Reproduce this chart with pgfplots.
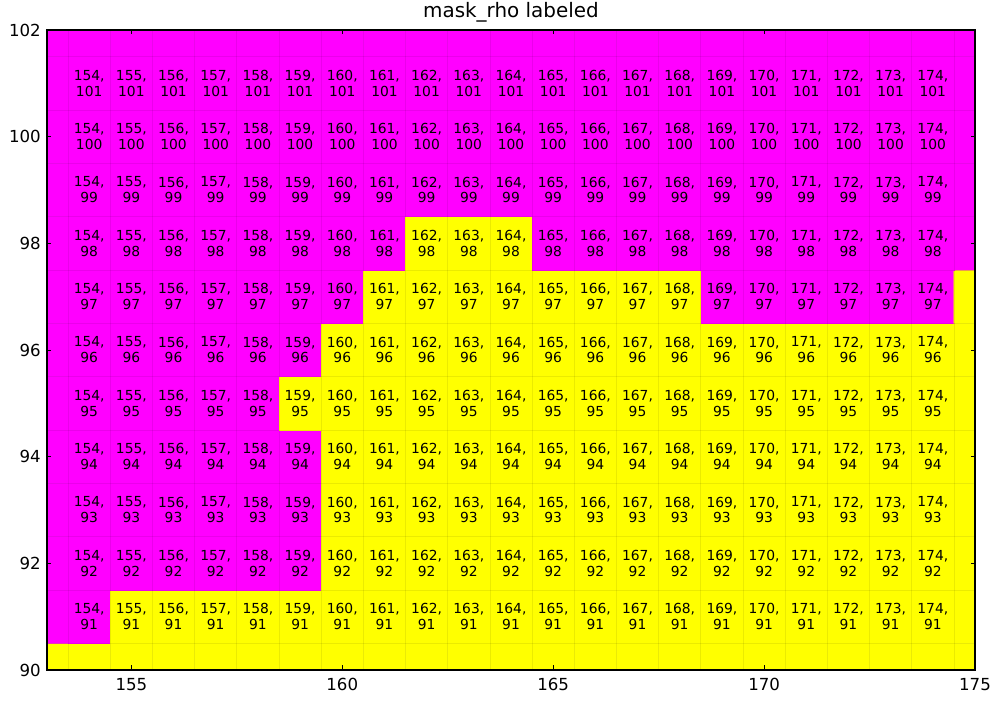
\documentclass[border=0pt]{standalone}
\usepackage{fontspec}
\setmainfont{DejaVu Sans}
\usepackage{pgfplots}
\pgfplotsset{compat=1.18}
\begin{document}
\begin{tikzpicture}
\path[use as bounding box] (-0.47in,-0.35in) rectangle (9.56in,6.70in);
\begin{axis}[
  at={(0,0)}, anchor=south west,
  scale only axis, width=9.28in, height=6.4in,
  xmin=153, xmax=175, ymin=90, ymax=102,
  xtick={155,160,...,175}, ytick={90,92,...,102},
  minor xtick={153.5,154.5,...,174.5},
  minor ytick={90.5,91.5,...,101.5},
  xminorgrids, yminorgrids,
  minor grid style={black, opacity=0.08, line width=0.5pt},
  minor tick length=0pt,
  major tick length=0.045in,
  tick align=inside,
  tick style={black, line width=0.6pt},
  axis line style={black, line width=0.8pt},
  axis on top,
  /pgf/number format/assume math mode=true,
  ticklabel style={font=\fontsize{12}{14}\selectfont},
  xticklabel style={yshift=-2.5pt},
  yticklabel style={xshift=-1pt},
  title={mask\_rho labeled},
  title style={font=\fontsize{14.4}{17}\selectfont, at={(0.5,1)}, anchor=base, yshift=3pt},
  colormap={mm}{rgb255=(255,0,255) rgb255=(255,255,0)},
  point meta min=0, point meta max=1,
]
\addplot[matrix plot*, mesh/cols=23, point meta=explicit] coordinates {
(153,90)[1] (154,90)[1] (155,90)[1] (156,90)[1] (157,90)[1] (158,90)[1] (159,90)[1] (160,90)[1] (161,90)[1] (162,90)[1] (163,90)[1] (164,90)[1] (165,90)[1] (166,90)[1] (167,90)[1] (168,90)[1] (169,90)[1] (170,90)[1] (171,90)[1] (172,90)[1] (173,90)[1] (174,90)[1] (175,90)[1]

(153,91)[0] (154,91)[0] (155,91)[1] (156,91)[1] (157,91)[1] (158,91)[1] (159,91)[1] (160,91)[1] (161,91)[1] (162,91)[1] (163,91)[1] (164,91)[1] (165,91)[1] (166,91)[1] (167,91)[1] (168,91)[1] (169,91)[1] (170,91)[1] (171,91)[1] (172,91)[1] (173,91)[1] (174,91)[1] (175,91)[1]

(153,92)[0] (154,92)[0] (155,92)[0] (156,92)[0] (157,92)[0] (158,92)[0] (159,92)[0] (160,92)[1] (161,92)[1] (162,92)[1] (163,92)[1] (164,92)[1] (165,92)[1] (166,92)[1] (167,92)[1] (168,92)[1] (169,92)[1] (170,92)[1] (171,92)[1] (172,92)[1] (173,92)[1] (174,92)[1] (175,92)[1]

(153,93)[0] (154,93)[0] (155,93)[0] (156,93)[0] (157,93)[0] (158,93)[0] (159,93)[0] (160,93)[1] (161,93)[1] (162,93)[1] (163,93)[1] (164,93)[1] (165,93)[1] (166,93)[1] (167,93)[1] (168,93)[1] (169,93)[1] (170,93)[1] (171,93)[1] (172,93)[1] (173,93)[1] (174,93)[1] (175,93)[1]

(153,94)[0] (154,94)[0] (155,94)[0] (156,94)[0] (157,94)[0] (158,94)[0] (159,94)[0] (160,94)[1] (161,94)[1] (162,94)[1] (163,94)[1] (164,94)[1] (165,94)[1] (166,94)[1] (167,94)[1] (168,94)[1] (169,94)[1] (170,94)[1] (171,94)[1] (172,94)[1] (173,94)[1] (174,94)[1] (175,94)[1]

(153,95)[0] (154,95)[0] (155,95)[0] (156,95)[0] (157,95)[0] (158,95)[0] (159,95)[1] (160,95)[1] (161,95)[1] (162,95)[1] (163,95)[1] (164,95)[1] (165,95)[1] (166,95)[1] (167,95)[1] (168,95)[1] (169,95)[1] (170,95)[1] (171,95)[1] (172,95)[1] (173,95)[1] (174,95)[1] (175,95)[1]

(153,96)[0] (154,96)[0] (155,96)[0] (156,96)[0] (157,96)[0] (158,96)[0] (159,96)[0] (160,96)[1] (161,96)[1] (162,96)[1] (163,96)[1] (164,96)[1] (165,96)[1] (166,96)[1] (167,96)[1] (168,96)[1] (169,96)[1] (170,96)[1] (171,96)[1] (172,96)[1] (173,96)[1] (174,96)[1] (175,96)[1]

(153,97)[0] (154,97)[0] (155,97)[0] (156,97)[0] (157,97)[0] (158,97)[0] (159,97)[0] (160,97)[0] (161,97)[1] (162,97)[1] (163,97)[1] (164,97)[1] (165,97)[1] (166,97)[1] (167,97)[1] (168,97)[1] (169,97)[0] (170,97)[0] (171,97)[0] (172,97)[0] (173,97)[0] (174,97)[0] (175,97)[1]

(153,98)[0] (154,98)[0] (155,98)[0] (156,98)[0] (157,98)[0] (158,98)[0] (159,98)[0] (160,98)[0] (161,98)[0] (162,98)[1] (163,98)[1] (164,98)[1] (165,98)[0] (166,98)[0] (167,98)[0] (168,98)[0] (169,98)[0] (170,98)[0] (171,98)[0] (172,98)[0] (173,98)[0] (174,98)[0] (175,98)[0]

(153,99)[0] (154,99)[0] (155,99)[0] (156,99)[0] (157,99)[0] (158,99)[0] (159,99)[0] (160,99)[0] (161,99)[0] (162,99)[0] (163,99)[0] (164,99)[0] (165,99)[0] (166,99)[0] (167,99)[0] (168,99)[0] (169,99)[0] (170,99)[0] (171,99)[0] (172,99)[0] (173,99)[0] (174,99)[0] (175,99)[0]

(153,100)[0] (154,100)[0] (155,100)[0] (156,100)[0] (157,100)[0] (158,100)[0] (159,100)[0] (160,100)[0] (161,100)[0] (162,100)[0] (163,100)[0] (164,100)[0] (165,100)[0] (166,100)[0] (167,100)[0] (168,100)[0] (169,100)[0] (170,100)[0] (171,100)[0] (172,100)[0] (173,100)[0] (174,100)[0] (175,100)[0]

(153,101)[0] (154,101)[0] (155,101)[0] (156,101)[0] (157,101)[0] (158,101)[0] (159,101)[0] (160,101)[0] (161,101)[0] (162,101)[0] (163,101)[0] (164,101)[0] (165,101)[0] (166,101)[0] (167,101)[0] (168,101)[0] (169,101)[0] (170,101)[0] (171,101)[0] (172,101)[0] (173,101)[0] (174,101)[0] (175,101)[0]

(153,102)[0] (154,102)[0] (155,102)[0] (156,102)[0] (157,102)[0] (158,102)[0] (159,102)[0] (160,102)[0] (161,102)[0] (162,102)[0] (163,102)[0] (164,102)[0] (165,102)[0] (166,102)[0] (167,102)[0] (168,102)[0] (169,102)[0] (170,102)[0] (171,102)[0] (172,102)[0] (173,102)[0] (174,102)[0] (175,102)[0]
};
\pgfplotsinvokeforeach{91,...,101}{
\addplot[only marks, mark=none, point meta=none,
  visualization depends on={rawx \as \myx},
  visualization depends on={rawy \as \myy},
  nodes near coords={\pgfmathprintnumber[int trunc]{\myx},\\\pgfmathprintnumber[int trunc]{\myy}},
  nodes near coords style={anchor=center, align=center, black, inner sep=0pt,
    font=\fontsize{10}{11.5}\selectfont}]
coordinates {(154,#1) (155,#1) (156,#1) (157,#1) (158,#1) (159,#1) (160,#1) (161,#1) (162,#1) (163,#1) (164,#1) (165,#1) (166,#1) (167,#1) (168,#1) (169,#1) (170,#1) (171,#1) (172,#1) (173,#1) (174,#1)};
}
\end{axis}
\end{tikzpicture}
\end{document}
